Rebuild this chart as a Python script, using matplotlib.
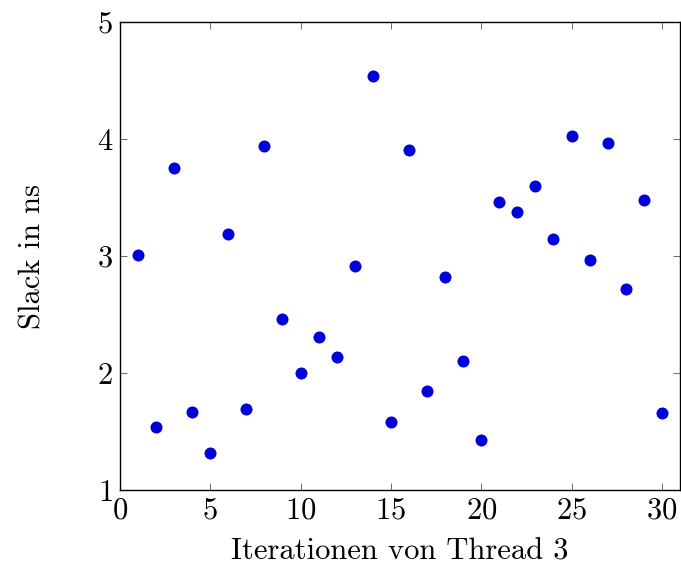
import matplotlib.pyplot as plt

plt.rcParams['font.family'] = 'cmr10'
plt.rcParams['mathtext.fontset'] = 'cm'
plt.rcParams['axes.formatter.use_mathtext'] = True

iterations = list(range(1, 31))
slack = [3.01, 1.54, 3.75, 1.67, 1.32, 3.19, 1.69, 3.94, 2.46, 2.00,
         2.31, 2.14, 2.92, 4.54, 1.58, 3.91, 1.85, 2.82, 2.10, 1.43,
         3.46, 3.38, 3.60, 3.15, 4.03, 2.97, 3.97, 2.72, 3.48, 1.66]

fig = plt.figure(figsize=(6.81, 5.68), dpi=100)
ax = fig.add_axes([0.176, 0.137, 0.8225, 0.824])
ax.scatter(iterations, slack, s=75, color='#0000d9', zorder=3, linewidths=0)
ax.set_xlim(0, 31)
ax.set_ylim(1, 5)
ax.set_xticks([0, 5, 10, 15, 20, 25, 30])
ax.set_yticks([1, 2, 3, 4, 5])
ax.tick_params(direction='in', labelsize=22, length=5, width=0.6, top=True, right=True,
               color='#555555', pad=5)
for s in ax.spines.values():
    s.set_linewidth(1.0)
ax.set_xlabel('Iterationen von Thread 3', fontsize=22, labelpad=10)
ax.set_ylabel('Slack in ns', fontsize=22, labelpad=36)
fig.savefig('out.png')
